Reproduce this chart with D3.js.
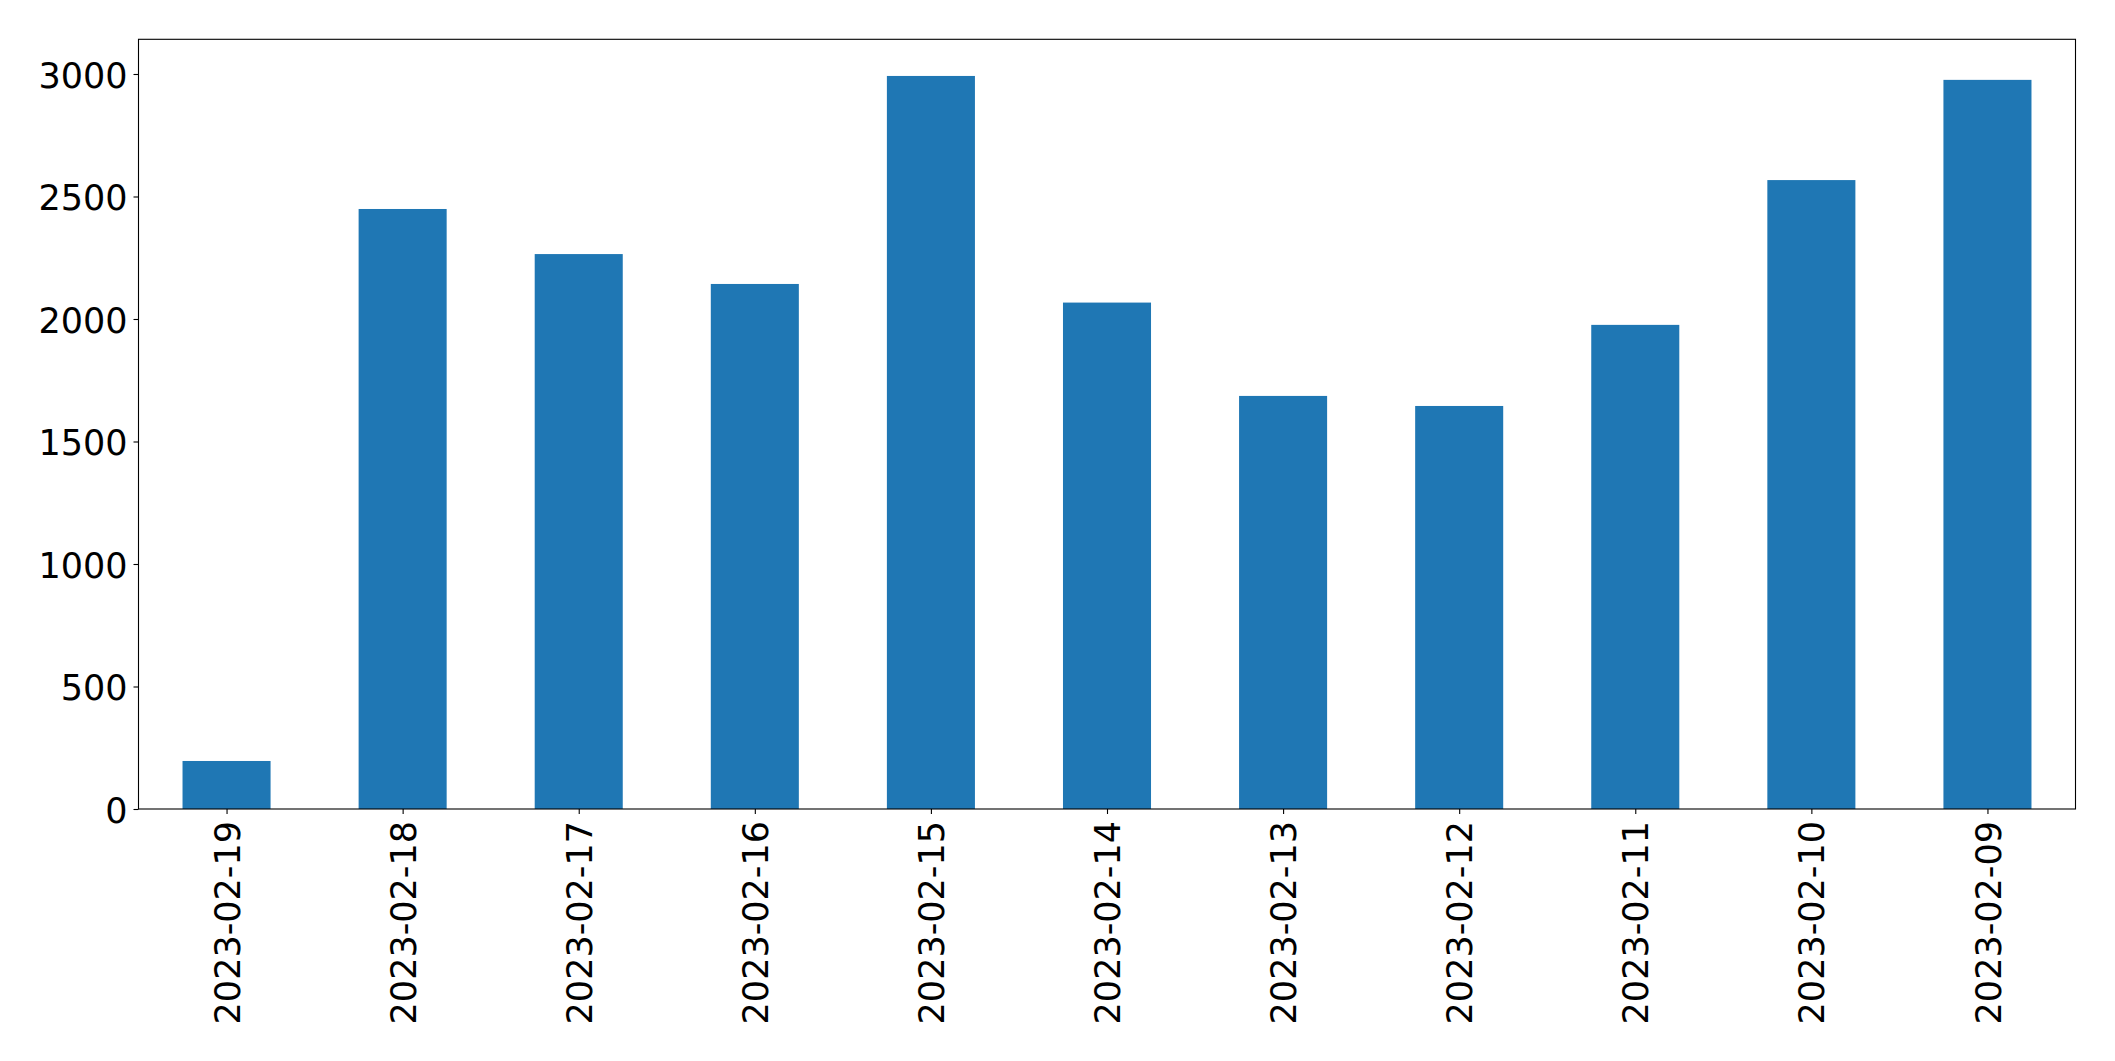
<!DOCTYPE html>
<html>
<head>
<meta charset="utf-8">
<script src="https://cdn.jsdelivr.net/npm/d3@7"></script>
<style>
  html, body { margin: 0; padding: 0; background: #fff; }
  svg { display: block; }
</style>
</head>
<body>
<script>
const categories = ["2023-02-19","2023-02-18","2023-02-17","2023-02-16","2023-02-15","2023-02-14","2023-02-13","2023-02-12","2023-02-11","2023-02-10","2023-02-09"];
const values = [196, 2449, 2265, 2143, 2992, 2067, 1686, 1645, 1976, 2567, 2976];
const yTicks = [0, 500, 1000, 1500, 2000, 2500, 3000];

const W = 2115, H = 1061;
const margin = { left: 138.5, top: 39.3, right: W - 2075.5, bottom: H - 809 };
const iw = W - margin.left - margin.right;
const ih = H - margin.top - margin.bottom;

const svg = d3.select("body").append("svg").attr("width", W).attr("height", H);
const g = svg.append("g").attr("transform", `translate(${margin.left},${margin.top})`);

const x = d3.scaleLinear().domain([-0.5, categories.length - 0.5]).range([0, iw]);
const y = d3.scaleLinear().domain([0, d3.max(values) * 1.05]).range([ih, 0]);
const bw = x(0.25) - x(-0.25);

g.selectAll("rect.bar").data(values).join("rect")
  .attr("class", "bar")
  .attr("x", (d, i) => x(i) - bw / 2)
  .attr("y", d => y(d))
  .attr("width", bw)
  .attr("height", d => y(0) - y(d))
  .attr("fill", "#1f77b4");

const font = "DejaVu Sans, sans-serif";

// Y axis
const yAxis = d3.axisLeft(y).tickValues(yTicks).tickSize(5).tickPadding(6).tickFormat(d3.format("d"));
const ya = g.append("g").call(yAxis);
ya.select(".domain").remove();
ya.selectAll("line").attr("stroke", "#000").attr("stroke-width", 1.1);
ya.selectAll("text").attr("font-family", font).attr("font-size", 35).attr("fill", "#000").attr("dy", "0.38em");

// X axis
const xAxis = d3.axisBottom(x).tickValues(d3.range(categories.length)).tickSize(5).tickFormat(i => categories[i]);
const xa = g.append("g").attr("transform", `translate(0,${ih})`).call(xAxis);
xa.select(".domain").remove();
xa.selectAll("line").attr("stroke", "#000").attr("stroke-width", 1.1);
xa.selectAll("text")
  .attr("font-family", font).attr("font-size", 35).attr("fill", "#000")
  .attr("text-anchor", "end")
  .attr("transform", "rotate(-90)")
  .attr("x", -12).attr("y", 0).attr("dy", "0.36em");

// frame
g.append("rect").attr("x", 0).attr("y", 0).attr("width", iw).attr("height", ih)
  .attr("fill", "none").attr("stroke", "#000").attr("stroke-width", 1.1);
</script>
</body>
</html>
